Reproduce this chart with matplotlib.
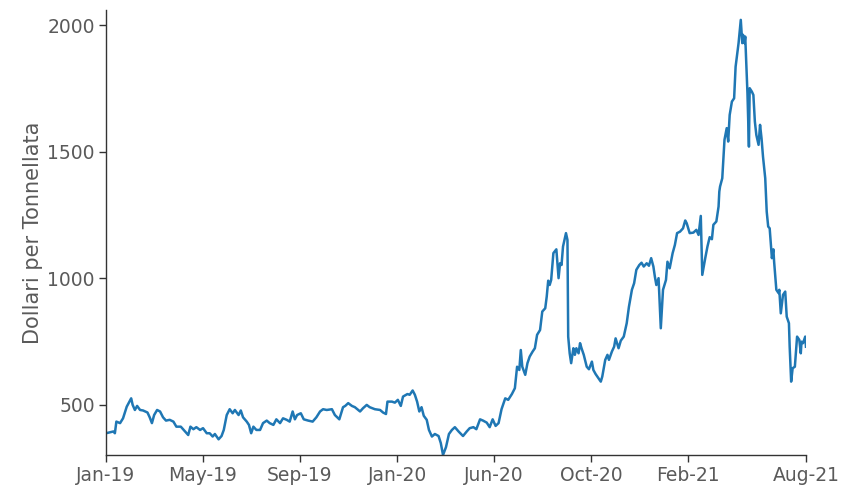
import numpy as np
import pandas as pd
import matplotlib
matplotlib.use("Agg")
import matplotlib.pyplot as plt

# Lumber price (day offset from START, USD per tonne)
START = "2019-01-02"
day = [
    0, 10, 12, 14, 19, 23, 28, 30, 34, 36, 39, 42, 46, 50, 56, 59, 62, 65, 69, 73,
    77, 81, 86, 91, 95, 101, 105, 111, 114, 118, 122, 127, 131, 136, 140, 144, 147, 152, 156, 159,
    163, 167, 171, 174, 179, 182, 185, 190, 193, 196, 199, 203, 208, 212, 217, 221, 226, 230, 235, 239,
    244, 248, 252, 255, 258, 263, 267, 273, 279, 284, 289, 293, 298, 305, 309, 315, 320, 323, 327, 332,
    336, 343, 347, 352, 356, 363, 370, 374, 378, 380, 386, 390, 394, 398, 401, 407, 410, 414, 417, 420,
    423, 426, 429, 433, 436, 440, 444, 449, 452, 455, 459, 463, 467, 471, 476, 482, 487, 491, 496, 500,
    505, 509, 514, 518, 522, 526, 530, 534, 539, 543, 548, 552, 555, 558, 560, 562, 566, 569, 572, 576,
    579, 582, 586, 589, 593, 595, 597, 599, 601, 604, 608, 611, 613, 615, 617, 621, 623, 624, 626, 628,
    631, 633, 635, 638, 640, 642, 645, 649, 652, 656, 658, 661, 665, 668, 670, 674, 677, 679, 683, 686,
    688, 692, 695, 699, 703, 706, 710, 713, 716, 720, 723, 726, 730, 733, 736, 739, 741, 743, 746, 749,
    752, 756, 758, 761, 765, 768, 771, 775, 779, 782, 784, 788, 793, 797, 800, 803, 805, 809, 812, 815,
    818, 820, 824, 827, 828, 829, 832, 835, 838, 840, 842, 845, 848, 850, 854, 857, 859, 860, 862, 863,
    866, 868, 869, 872, 874, 876, 878, 881, 883, 885, 887, 890, 892, 894, 896, 899, 901, 902, 905, 908,
    909, 911, 914, 917, 919, 922, 923, 925, 927, 930, 933, 936, 938, 939, 941, 944, 945,
]
price = [
    388, 395, 388, 434, 428, 447, 493, 504, 526, 500, 480, 496, 480, 478, 470, 451, 428, 460, 480, 474,
    451, 438, 441, 434, 414, 414, 401, 381, 414, 404, 412, 401, 408, 388, 388, 375, 385, 364, 377, 401,
    460, 483, 467, 480, 460, 478, 451, 434, 421, 388, 414, 401, 401, 428, 438, 428, 421, 443, 428, 447,
    441, 434, 474, 443, 460, 467, 443, 438, 434, 451, 474, 483, 480, 483, 460, 443, 491, 496, 507, 496,
    491, 474, 487, 500, 491, 483, 480, 470, 464, 513, 513, 509, 520, 496, 533, 543, 540, 557, 540, 513,
    474, 491, 457, 441, 401, 375, 385, 377, 349, 302, 333, 385, 401, 412, 395, 377, 395, 408, 412, 404,
    443, 438, 430, 412, 443, 417, 428, 483, 526, 520, 543, 566, 651, 638, 717, 651, 619, 665, 691, 711,
    724, 777, 796, 869, 882, 928, 991, 974, 994, 1100, 1115, 1001, 1060, 1053, 1126, 1179, 1152, 770, 704, 665,
    724, 698, 724, 704, 744, 724, 698, 651, 641, 671, 638, 622, 605, 592, 612, 678, 698, 678, 711, 730,
    763, 724, 754, 770, 823, 888, 955, 981, 1034, 1053, 1062, 1047, 1060, 1050, 1080, 1047, 1007, 974, 1001, 803,
    955, 994, 1066, 1040, 1100, 1132, 1179, 1185, 1198, 1229, 1218, 1179, 1181, 1192, 1172, 1247, 1014, 1080, 1126, 1163,
    1155, 1212, 1225, 1284, 1343, 1363, 1396, 1548, 1594, 1541, 1646, 1699, 1712, 1837, 1930, 2022, 1930, 1963, 1930, 1956,
    1732, 1521, 1752, 1738, 1725, 1620, 1567, 1528, 1607, 1554, 1481, 1396, 1264, 1205, 1198, 1080, 1115, 1066, 955, 942,
    955, 862, 935, 948, 849, 823, 730, 592, 645, 651, 770, 757, 704, 750, 744, 770, 730,
]
tick_labels = ["Jan-19", "May-19", "Sep-19", "Jan-20", "Jun-20", "Oct-20", "Feb-21", "Aug-21"]

dates = pd.Timestamp(START) + pd.to_timedelta(day, unit="D")

text_color = "#5a5a5a"
plt.rcParams["font.family"] = ["DejaVu Sans"]

fig = plt.figure(figsize=(8.5, 5), dpi=100)
ax = fig.add_axes([0.1247, 0.09, 0.8235, 0.89])

ax.plot(dates, price, color="#1f77b4", linewidth=1.8)

ax.set_xlim(dates[0], dates[-1])
ax.set_ylim(302, 2061)

# evenly spaced ticks, last one at the end of the series
step = pd.Timedelta(days=131)
ticks = [dates[0] + i * step for i in range(len(tick_labels) - 1)] + [dates[-1]]
ax.set_xticks(ticks)
ax.set_xticklabels(tick_labels)
ax.set_yticks([500, 1000, 1500, 2000])

ax.spines["top"].set_visible(False)
ax.spines["right"].set_visible(False)
for s in ("left", "bottom"):
    ax.spines[s].set_color("#333333")
    ax.spines[s].set_linewidth(1.0)

ax.tick_params(axis="both", labelsize=13.5, colors="#333333", labelcolor=text_color,
               length=5, width=1.0, direction="out", pad=3)
ax.set_ylabel("Dollari per Tonnellata", fontsize=15, color=text_color, labelpad=3)

fig.savefig("out.png", dpi=100)
